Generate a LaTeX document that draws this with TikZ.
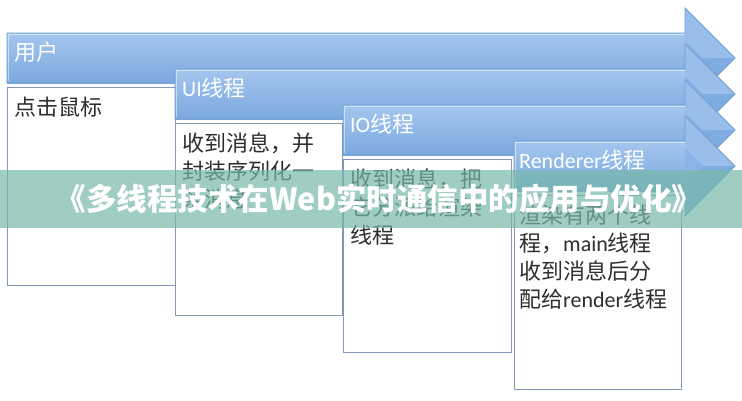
\documentclass[tikz,border=0pt]{standalone}
\usepackage{fontspec}
\setmainfont{Carlito}
\newfontfamily\cjk{Noto Sans CJK SC}
\newcommand{\zh}[1]{{\cjk #1}}
\definecolor{bandfill}{HTML}{8AB4E5}
\definecolor{bandtop}{HTML}{A4C6EE}
\definecolor{bandbot}{HTML}{7BA9DF}
\definecolor{bandedge}{HTML}{709ED4}
\definecolor{boxedge}{HTML}{8497B8}
\definecolor{boxtext}{HTML}{2E2E2E}
\definecolor{bannerc}{RGB}{120,185,170}
\tikzset{
  bandlabel/.style={anchor=west, inner sep=0pt, text=white, font=\fontsize{22}{26}\selectfont},
  boxnode/.style={draw=boxedge, line width=0.9pt, fill=white, anchor=north west, inner sep=0pt},
  boxtxt/.style={anchor=north west, inner sep=0pt, align=left, text=boxtext, font=\fontsize{22}{28}\selectfont},
}
\newcommand{\band}[3]{% left x, center y, name
  \fill[bandfill] (#1,#2-25) -- (685,#2-25) -- (685,#2-50) -- (735,#2) -- (685,#2+50) -- (685,#2+25) -- (#1,#2+25) -- cycle;
  \shade[top color=bandtop, bottom color=bandbot] (#1,#2-25) rectangle (685,#2+25);
  \fill[bandtop, opacity=0.6] (685,#2-50) -- (735,#2) -- (703,#2) -- (685,#2-18) -- cycle;
  \fill[bandbot, opacity=0.7] (735,#2) -- (685,#2+50) -- (685,#2+18) -- (703,#2) -- cycle;
  \draw[bandedge, line width=0.8pt] (#1,#2-25) -- (685,#2-25) -- (685,#2-50) -- (735,#2) -- (685,#2+50) -- (685,#2+25) -- (#1,#2+25) -- cycle;
  \draw[white, opacity=0.5, line width=1pt] (#1+1.5,#2+23) -- (#1+1.5,#2-23.5) -- (685,#2-23.5);
}
\begin{document}
\begin{tikzpicture}[x=1pt,y=-1pt]
\useasboundingbox (0,0) rectangle (742,400);
\fill[white] (0,0) rectangle (742,400);
% bands and boxes
\band{7}{58}{b1}
\node[bandlabel] (l1) at (14,52) {\zh{用户}};
\node[boxnode, minimum width=168pt, minimum height=198pt] (x1) at (7,87) {};
\node[boxtxt] (t1) at ([xshift=7pt,yshift=-10pt]x1.north west) {\zh{点击鼠标}};
\band{175}{94}{b2}
\node[bandlabel] (l2) at (182,88) {UI\zh{线程}};
\node[boxnode, minimum width=167pt, minimum height=192pt] (x2) at (175,123) {};
\node[boxtxt] (t2) at ([xshift=7pt,yshift=-10pt]x2.north west) {\zh{收到消息，并}\\\zh{封装序列化一}\\\zh{条消息}};
\band{343}{130}{b3}
\node[bandlabel] (l3) at (350,124) {IO\zh{线程}};
\node[boxnode, minimum width=168pt, minimum height=193pt] (x3) at (343,159) {};
\node[boxtxt] (t3) at ([xshift=7pt,yshift=-10pt]x3.north west) {\zh{收到消息，把}\\\zh{它分派给渲染}\\\zh{线程}};
\band{514}{166}{b4}
\node[bandlabel] (l4) at (519,160) {Renderer\zh{线程}};
\node[boxnode, minimum width=167pt, minimum height=194pt] (x4) at (514,195) {};
\node[boxtxt] (t4) at ([xshift=5pt,yshift=-10pt]x4.north west) {\zh{渲染有两个线}\\\zh{程，}main\zh{线程}\\\zh{收到消息后分}\\\zh{配给}render\zh{线程}};
% banner
\fill[bannerc, opacity=0.7] (0,170) rectangle (742,228);
\node[text=white, inner sep=0pt, font={\cjk\bfseries\fontsize{30.5}{32}\selectfont}] (title) at (379,199) {《多线程技术在Web实时通信中的应用与优化》};
\end{tikzpicture}
\end{document}
